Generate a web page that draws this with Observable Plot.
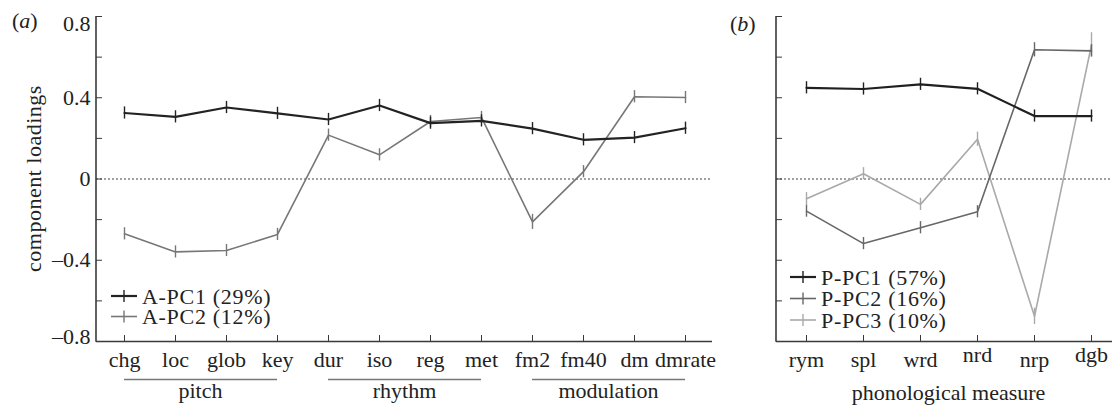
<!DOCTYPE html>
<html><head><meta charset="utf-8">
<script src="https://cdn.jsdelivr.net/npm/d3@7"></script>
<script src="https://cdn.jsdelivr.net/npm/@observablehq/plot@0.6"></script>
<style>
html,body{margin:0;padding:0;background:#fff;overflow:hidden;}
#wrap{position:relative;width:1112px;height:412px;overflow:hidden;background:#fff;}
#wrap svg{position:absolute;top:0;max-width:none;overflow:visible;}
#wrap svg text{font-family:"Liberation Serif","Times New Roman",Times,serif;}
</style></head><body><div id="wrap"></div>
<script>
// ---- data: panel (a) acoustic measures ----
const acousticMeasures = ["chg","loc","glob","key","dur","iso","reg","met","fm2","fm40","dm","dmrate"];
const aPC1 = [0.325,0.306,0.352,0.323,0.293,0.362,0.275,0.286,0.248,0.193,0.204,0.250];
const aPC1Err = [0.03,0.03,0.03,0.03,0.03,0.03,0.03,0.03,0.03,0.03,0.03,0.03];
const aPC2 = [-0.270,-0.359,-0.352,-0.273,0.216,0.119,0.283,0.303,-0.211,0.036,0.405,0.401];
const aPC2Err = [0.03,0.03,0.03,0.03,0.03,0.03,0.03,0.03,0.037,0.03,0.03,0.03];
const aSeries = ["A-PC1 (29%)","A-PC2 (12%)"];
const groupLabels = ["pitch","rhythm","modulation"];
const groupStart = ["chg","dur","fm2"];
const groupEnd = ["key","met","dmrate"];

// ---- data: panel (b) phonological measures ----
const phonMeasures = ["rym","spl","wrd","nrd","nrp","dgb"];
const phonLowLabels = ["rym","spl","wrd","nrp"];
const phonHighLabels = ["nrd","dgb"];
const pPC1 = [0.449,0.443,0.466,0.444,0.310,0.310];
const pPC1Err = [0.03,0.03,0.03,0.03,0.03,0.03];
const pPC2 = [-0.158,-0.318,-0.240,-0.161,0.636,0.631];
const pPC2Err = [0.03,0.03,0.03,0.03,0.035,0.03];
const pPC3 = [-0.097,0.026,-0.125,0.196,-0.676,0.660];
const pPC3Err = [0.03,0.03,0.03,0.035,0.04,0.06];
const pSeries = ["P-PC1 (57%)","P-PC2 (16%)","P-PC3 (10%)"];

const yTicks = [-0.8,-0.6,-0.4,-0.2,0,0.2,0.4,0.6,0.8];
const yMidLabels = [-0.4,0,0.4];
const yTopLabel = [0.8];
const yBottomLabel = [-0.8];
const xLabel = "phonological measure";
const yLabel = "component loadings";

// ---- styles ----
const FONT = "'Liberation Serif', 'Times New Roman', Times, serif";
const aColors = ["#232323","#777777"];
const aWidths = [2.2,1.6];
const pColors = ["#202020","#676767","#a9a9a9"];
const pWidths = [2.2,1.6,1.6];
const axisColor = "#3a3a3a";
const fmt = d => d === 0 ? "0" : (d < 0 ? "\u2013" : "") + Math.abs(d).toFixed(1);

function rows(measures, values, errs, series) {
  return measures.map((m, i) => ({series, measure: m, value: values[i], err: errs[i]}));
}
const aData = [rows(acousticMeasures, aPC1, aPC1Err, aSeries[0]), rows(acousticMeasures, aPC2, aPC2Err, aSeries[1])];
const pData = [rows(phonMeasures, pPC1, pPC1Err, pSeries[0]), rows(phonMeasures, pPC2, pPC2Err, pSeries[1]), rows(phonMeasures, pPC3, pPC3Err, pSeries[2])];
const groups = groupLabels.map((g, i) => ({label: g, from: groupStart[i], to: groupEnd[i]}));

function seriesMarks(data, colors, widths) {
  const marks = [];
  for (let k = data.length - 1; k >= 0; k--) {
    marks.push(Plot.line(data[k], {x: "measure", y: "value", stroke: colors[k], strokeWidth: widths[k]}));
    marks.push(Plot.ruleX(data[k], {x: "measure", y1: d => d.value - d.err, y2: d => d.value + d.err, stroke: colors[k], strokeWidth: 1.4}));
  }
  return marks;
}

const baseStyle = {fontFamily: FONT, fontSize: "22px", background: "transparent", color: "#222", maxWidth: "none", overflow: "visible"};
const zeroLine = () => Plot.ruleY([0], {stroke: "#444", strokeDasharray: "2,2", strokeWidth: 1});

// ---- left panel ----
const left = Plot.plot({
  width: 720, height: 412,
  marginLeft: 96, marginRight: 8, marginTop: 16, marginBottom: 71,
  style: baseStyle,
  x: {type: "point", domain: acousticMeasures, padding: 0.5, label: null},
  y: {domain: [-0.8, 0.8], label: null},
  marks: [
    zeroLine(),
    Plot.axisY(yTicks, {tickSize: 6, dx: 6, tickFormat: () => "", stroke: axisColor, label: null}),
    Plot.axisY(yMidLabels, {tickSize: 0, tickPadding: 6, tickFormat: fmt, label: null, fill: "#222"}),
    Plot.axisY(yTopLabel, {tickSize: 0, tickPadding: 6, tickFormat: fmt, label: null, dy: 7, fill: "#222"}),
    Plot.axisY(yBottomLabel, {tickSize: 0, tickPadding: 6, tickFormat: fmt, label: null, dy: -5, fill: "#222"}),
    Plot.axisX(acousticMeasures, {tickSize: 6, dy: -6, tickFormat: () => "", stroke: axisColor, label: null}),
    Plot.axisX(acousticMeasures, {tickSize: 0, tickPadding: 10, label: null, fill: "#222"}),
    Plot.ruleY([-0.8], {stroke: axisColor, strokeWidth: 1.6}),
    Plot.ruleY(groups, {x1: "from", x2: "to", y: -0.8, dy: 38, stroke: "#777", strokeWidth: 1.6}),
    ...seriesMarks(aData, aColors, aWidths)
  ]
});
left.style.left = "0px";

// ---- right panel ----
const right = Plot.plot({
  width: 421, height: 412,
  marginLeft: 76, marginRight: 0, marginTop: 16, marginBottom: 71,
  style: baseStyle,
  x: {type: "point", domain: phonMeasures, padding: 0.5, label: null},
  y: {domain: [-0.8, 0.8], label: null},
  marks: [
    zeroLine(),
    Plot.axisY(yTicks, {tickSize: 6, dx: 6, tickFormat: () => "", stroke: axisColor, label: null}),
    Plot.axisX(phonMeasures, {tickSize: 6, dy: -6, tickFormat: () => "", stroke: axisColor, label: null}),
    Plot.axisX(phonLowLabels, {tickSize: 0, tickPadding: 10, label: null, fill: "#222"}),
    Plot.axisX(phonHighLabels, {tickSize: 0, tickPadding: 10, dy: -5, label: null, fill: "#222"}),
    Plot.ruleY([-0.8], {stroke: axisColor, strokeWidth: 1.6}),
    ...seriesMarks(pData, pColors, pWidths)
  ]
});
right.style.left = "700px";

const wrap = document.getElementById("wrap");
wrap.appendChild(left);
wrap.appendChild(right);

function addText(s, x, y, str) {
  return s.append("text").attr("x", x).attr("y", y).attr("font-size", 22).attr("fill", "#222").text(str);
}

function decorate(svg, plotMarginLeft, opts) {
  const s = d3.select(svg);
  const ys = svg.scale("y"), xs = svg.scale("x");
  s.append("line").attr("x1", plotMarginLeft).attr("x2", plotMarginLeft)
    .attr("y1", ys.apply(0.8)).attr("y2", ys.apply(-0.8) + 0.8)
    .attr("stroke", axisColor).attr("stroke-width", 1.6);
  // panel tag
  const tag = s.append("text").attr("x", opts.tagX).attr("y", opts.tagY).attr("text-anchor", "start")
    .attr("font-size", 22).attr("fill", "#222");
  tag.append("tspan").text("(");
  tag.append("tspan").attr("font-style", "italic").text(opts.tag);
  tag.append("tspan").text(")");
  // legend
  opts.series.forEach((name, i) => {
    const y = opts.legY + i * opts.legStep;
    s.append("line").attr("x1", opts.legX).attr("x2", opts.legX + 26).attr("y1", y).attr("y2", y)
      .attr("stroke", opts.colors[i]).attr("stroke-width", opts.widths[i]);
    s.append("line").attr("x1", opts.legX + 13).attr("x2", opts.legX + 13).attr("y1", y - 6).attr("y2", y + 6)
      .attr("stroke", opts.colors[i]).attr("stroke-width", 1.4);
    addText(s, opts.legX + 31, y, name).attr("dy", "0.35em").attr("text-anchor", "start").attr("letter-spacing", 0.7);
  });
  return {s, xs, ys};
}

const L = decorate(left, 96, {tag: "a", tagX: 12, tagY: 28, series: aSeries, colors: aColors, widths: aWidths, legX: 111, legY: 296, legStep: 20.5});
groups.forEach(g => {
  const cx = (L.xs.apply(g.from) + L.xs.apply(g.to)) / 2;
  addText(L.s, cx, L.ys.apply(-0.8) + 57, g.label).attr("text-anchor", "middle");
});
L.s.append("text").attr("transform", `translate(34,${L.ys.apply(0)}) rotate(-90)`).attr("text-anchor", "middle")
  .attr("dy", "0.32em").attr("font-size", 22).attr("letter-spacing", 0.5).attr("fill", "#222").text(yLabel);

const R = decorate(right, 76, {tag: "b", tagX: 30, tagY: 31, series: pSeries, colors: pColors, widths: pWidths, legX: 90, legY: 277, legStep: 21.5});
const rcx = (R.xs.apply(phonMeasures[0]) + R.xs.apply(phonMeasures[phonMeasures.length - 1])) / 2;
addText(R.s, rcx, R.ys.apply(-0.8) + 59, xLabel).attr("text-anchor", "middle");
</script>
</body></html>
